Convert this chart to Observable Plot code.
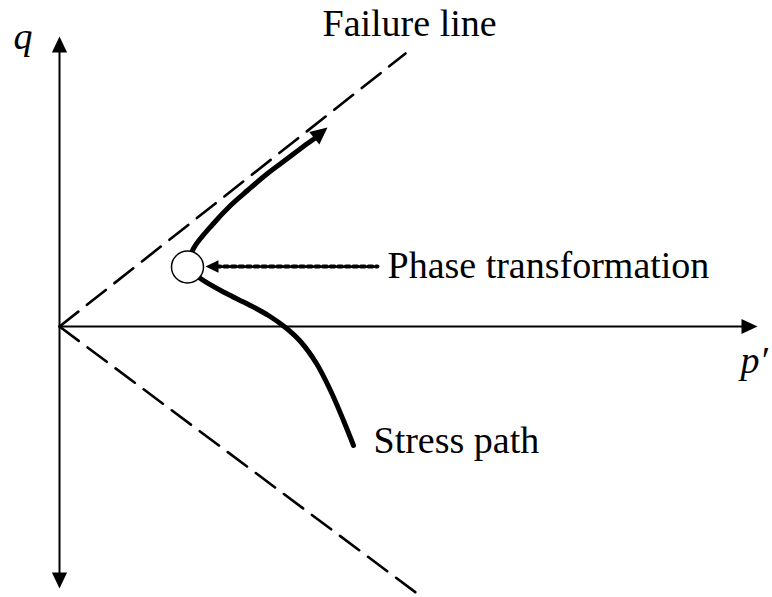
<!DOCTYPE html>
<html>
<head>
<meta charset="utf-8">
<script src="https://cdn.jsdelivr.net/npm/d3@7"></script>
<script src="https://cdn.jsdelivr.net/npm/@observablehq/plot@0.6"></script>
<style>
  html, body { margin: 0; padding: 0; background: #fff; }
</style>
</head>
<body>
<div id="chart"></div>
<script>
// Schematic q – p' stress-path diagram (abstract units, origin at p'=0, q=0)
const failureUpper = [{p: 0, q: 0}, {p: 3.46, q: 2.73}];
const failureLower = [{p: 0, q: 0}, {p: 3.63, q: -2.71}];
const qAxis = [{p: 0, q: -2.55}, {p: 0, q: 2.80}];
const pAxis = [{p: 0, q: 0}, {p: 6.88, q: 0}];
// stress path, upper branch (from phase transformation point toward failure line)
const pathUpper = [
  {p: 1.28, q: 0.595}, {p: 1.34, q: 0.78}, {p: 1.54, q: 1.03}, {p: 1.71, q: 1.21},
  {p: 1.88, q: 1.36}, {p: 2.08, q: 1.53}, {p: 2.28, q: 1.68}, {p: 2.48, q: 1.83},
  {p: 2.58, q: 1.90}
];
// stress path, lower branch (from phase transformation point down to end)
const pathLower = [
  {p: 1.28, q: 0.595}, {p: 1.41, q: 0.48}, {p: 1.65, q: 0.34}, {p: 1.89, q: 0.22},
  {p: 2.09, q: 0.11}, {p: 2.26, q: -0.01}, {p: 2.41, q: -0.15}, {p: 2.57, q: -0.37},
  {p: 2.71, q: -0.64}, {p: 2.84, q: -0.94}, {p: 2.94, q: -1.19}
];
const phasePoint = [{p: 1.28, q: 0.595}];
const dottedPointer = [{p: 1.57, q: 0.60}, {p: 3.18, q: 0.60}];
const arrowHeads = [
  {p: 0, q: 2.90, angle: 0, r: 8},
  {p: 0, q: -2.62, angle: 180, r: 8},
  {p: 6.98, q: 0, angle: 90, r: 8},
  {p: 2.68, q: 1.99, angle: 51, r: 8.5},
  {p: 1.46, q: 0.60, angle: -90, r: 6.5}
];
const labels = [
  {p: 2.63, q: 2.91, text: "Failure line", italic: false},
  {p: 3.28, q: 0.49, text: "Phase transformation", italic: false},
  {p: 3.14, q: -1.26, text: "Stress path", italic: false},
  {p: -0.46, q: 2.78, text: "q", italic: true},
  {p: 6.81, q: -0.46, text: "p\u2032", italic: true}
];

// filled arrowhead symbol with its tip at the origin, pointing up
const arrowSymbol = {
  draw(context, size) {
    const r = Math.sqrt(size / Math.PI);
    context.moveTo(0, 0);
    context.lineTo(-0.95 * r, 2 * r);
    context.lineTo(0.95 * r, 2 * r);
    context.closePath();
  }
};

const font = "'Liberation Serif', 'Times New Roman', serif";

const chart = Plot.plot({
  width: 772,
  height: 597,
  margin: 0,
  x: {domain: [-0.59, 7.13], axis: null},
  y: {domain: [-2.71, 3.26], axis: null},
  r: {type: "identity"},
  style: {background: "#fff"},
  marks: [
    Plot.line(failureUpper, {x: "p", y: "q", stroke: "#000", strokeWidth: 2.6, strokeDasharray: "24,11"}),
    Plot.line(failureLower, {x: "p", y: "q", stroke: "#000", strokeWidth: 2.6, strokeDasharray: "24,11"}),
    Plot.line(qAxis, {x: "p", y: "q", stroke: "#000", strokeWidth: 2}),
    Plot.line(pAxis, {x: "p", y: "q", stroke: "#000", strokeWidth: 2}),
    Plot.line(pathUpper, {x: "p", y: "q", stroke: "#000", strokeWidth: 5, curve: "catmull-rom"}),
    Plot.line(pathLower, {x: "p", y: "q", stroke: "#000", strokeWidth: 5, curve: "catmull-rom"}),
    Plot.line(dottedPointer, {x: "p", y: "q", stroke: "#000", strokeWidth: 4, strokeDasharray: "4,3.6"}),
    Plot.dot(phasePoint, {x: "p", y: "q", r: 16, fill: "#fff", stroke: "#000", strokeWidth: 1.5}),
    Plot.dot(arrowHeads, {x: "p", y: "q", r: "r", rotate: "angle", symbol: arrowSymbol, fill: "#000", stroke: "none"}),
    Plot.text(labels.filter(d => !d.italic), {x: "p", y: "q", text: "text", textAnchor: "start", lineAnchor: "bottom",
      fontSize: 38, fontFamily: font, fill: "#000"}),
    Plot.text(labels.filter(d => d.italic), {x: "p", y: "q", text: "text", textAnchor: "start", lineAnchor: "bottom",
      fontSize: 38, fontFamily: font, fontStyle: "italic", fill: "#000"})
  ]
});
document.getElementById("chart").appendChild(chart);
</script>
</body>
</html>
